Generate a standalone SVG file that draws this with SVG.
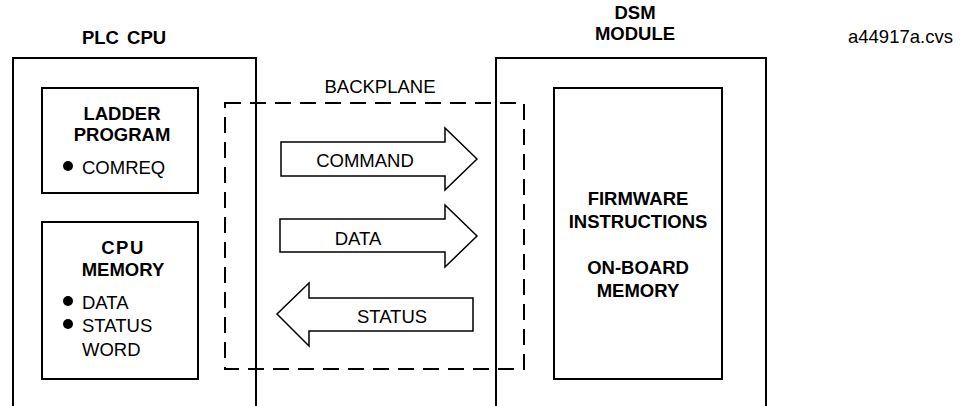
<svg xmlns="http://www.w3.org/2000/svg" width="962" height="406" viewBox="0 0 962 406">
<style>
.box{fill:none;stroke:#000;stroke-width:2}
.dash{fill:none;stroke:#000;stroke-width:2;stroke-dasharray:16 9}
.arr{fill:#fff;stroke:#000;stroke-width:1.5;stroke-linejoin:miter}
.b{font-family:"Liberation Sans",Arial,sans-serif;font-weight:bold;font-size:18.5px;text-anchor:middle;fill:#000}
.r{font-family:"Liberation Sans",Arial,sans-serif;font-size:18.5px;fill:#000}
.rc{font-family:"Liberation Sans",Arial,sans-serif;font-size:18.5px;fill:#000;text-anchor:middle}
</style>
<rect width="962" height="406" fill="#fff"/>
<text class="r" x="848" y="43">a44917a.cvs</text>
<g id="plc-cpu">
<path class="box" d="M13,406 V58 H256 V406"/>
<text class="b" x="124" y="44" word-spacing="3">PLC CPU</text>
</g>
<g id="ladder-program">
<rect class="box" x="42" y="88" width="156" height="105"/>
<text class="b" x="122" y="120">LADDER</text>
<text class="b" x="122" y="141">PROGRAM</text>
<circle cx="68" cy="166" r="5"/>
<text class="r" x="82" y="174">COMREQ</text>
</g>
<g id="cpu-memory">
<rect class="box" x="42" y="222" width="156" height="157"/>
<text class="b" x="123" y="254" letter-spacing="1.5">CPU</text>
<text class="b" x="123" y="276">MEMORY</text>
<circle cx="68" cy="301" r="5"/>
<text class="r" x="82" y="309">DATA</text>
<circle cx="68" cy="324" r="5"/>
<text class="r" x="82" y="332">STATUS</text>
<text class="r" x="82" y="356">WORD</text>
</g>
<g id="backplane">
<rect class="dash" x="225" y="103" width="299" height="266"/>
<text class="rc" x="380" y="93">BACKPLANE</text>
</g>
<g id="dsm-module">
<path class="box" d="M496,406 V58 H766 V406"/>
<text class="b" x="635" y="19">DSM</text>
<text class="b" x="635" y="40">MODULE</text>
</g>
<g id="firmware">
<rect class="box" x="554" y="88" width="168" height="291"/>
<text class="b" x="638" y="205">FIRMWARE</text>
<text class="b" x="638" y="228">INSTRUCTIONS</text>
<text class="b" x="638" y="274">ON-BOARD</text>
<text class="b" x="638" y="297">MEMORY</text>
</g>
<g id="connectors">
<path class="arr" d="M281,142 H445 V128 L477,159 L445,190 V176 H281 Z"/>
<text class="rc" x="365" y="167">COMMAND</text>
<path class="arr" d="M280,219 H445 V205 L477,236 L445,267 V252 H280 Z"/>
<text class="rc" x="358" y="245">DATA</text>
<path class="arr" d="M473,298 H309 V283 L277,314 L309,346 V331 H473 Z"/>
<text class="rc" x="392" y="323">STATUS</text>
</g>
</svg>
